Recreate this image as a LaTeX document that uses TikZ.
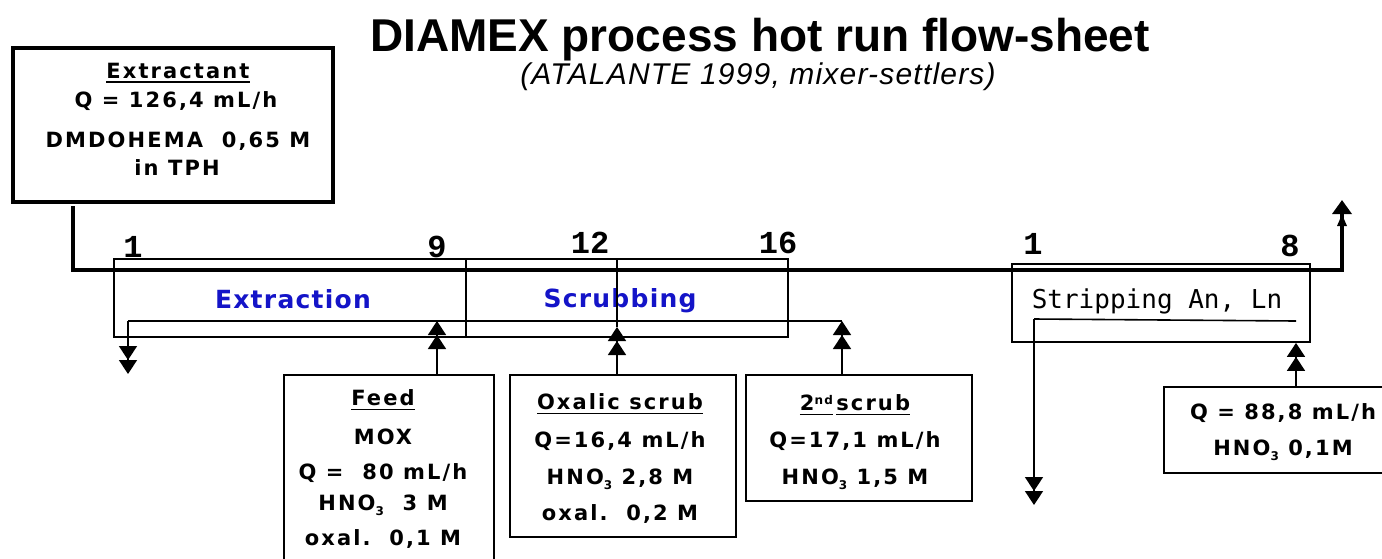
\documentclass[tikz,border=0pt]{standalone}
\usepackage{fontspec}
\setmainfont{Liberation Sans}
\newfontfamily\numfont{Liberation Mono}
\newfontfamily\stripfont{DejaVu Sans Mono}
\newfontfamily\boxf[LetterSpace=10]{DejaVu Sans}
\newfontfamily\labf[LetterSpace=5]{DejaVu Sans}
\newfontfamily\subtf[LetterSpace=4]{Liberation Sans}
\usetikzlibrary{arrows.meta}
\definecolor{labblue}{RGB}{20,20,200}
\newcommand{\lowsub}[1]{\raisebox{-0.45ex}{\fontsize{12}{12}\selectfont #1}}
\newcommand{\highsup}[1]{\raisebox{0.55ex}{\fontsize{12}{12}\selectfont #1}}
\newcommand{\ulx}[1]{\leavevmode\vtop{\hbox{#1}\kern3pt\hrule height 1.6pt}}
\begin{document}
\begin{tikzpicture}[x=1pt,y=-1pt,
  boxst/.style={draw, line width=1.8pt, inner sep=0},
  bt/.style={font=\boxf\bfseries\fontsize{21}{24}\selectfont, inner sep=0, anchor=base},
  labst/.style={font=\labf\bfseries\fontsize{25}{28}\selectfont, inner sep=0, anchor=base, text=labblue},
  numst/.style={font=\numfont\bfseries\fontsize{32}{34}\selectfont, inner sep=0, anchor=base},
  mainln/.style={line width=4pt, line join=miter},
  ln/.style={line width=1.6pt},
  arr/.style={line width=1.6pt, -{Triangle[length=14pt,width=18pt] Triangle[length=14pt,width=18pt]}},
  toparr/.style={-{Triangle[length=12pt,width=9pt] Triangle[length=14pt,width=19pt]}}
]
\useasboundingbox (0,0) rectangle (1382,558);
\fill[white] (0,0) rectangle (1382,558);

% title
\node[font=\bfseries\fontsize{46}{50}\selectfont, inner sep=0, anchor=base] (title) at (760,51) {DIAMEX process hot run flow-sheet};
\node[font=\subtf\itshape\fontsize{30}{32}\selectfont, inner sep=0, anchor=base] (subtitle) at (758,84) {(ATALANTE 1999, mixer-settlers)};

% extractant box
\node[draw, line width=4.5pt, inner sep=0, minimum width=320, minimum height=154] (extr) at (173,125) {};
\node[bt] (ex1) at (178,78) {\ulx{Extractant}};
\node[bt] (ex2) at (176,107) {Q = 126,4 mL/h};
\node[bt] (ex3) at (178,147) {DMDOHEMA\ \ 0,65 M};
\node[bt] (ex4) at (177,175) {in TPH};

% main organic line
\coordinate (ls) at (73,206);
\coordinate (rs) at (1342,270);
\coordinate (rtop) at (1342,200);
\draw[mainln, toparr] (ls) |- (rs) -- (rtop);

% contactor boxes
\node[boxst, minimum width=352, minimum height=78] (extbox) at (290,298) {};
\node[boxst, minimum width=322, minimum height=78] (scrbox) at (627,298) {};
\node[boxst, minimum width=298, minimum height=78] (strbox) at (1161,303) {};
\node[labst] (extl) at (293,308) {Extraction};
\node[labst] (scrl) at (620,307) {Scrubbing};
\node[font=\stripfont\fontsize{26}{28}\selectfont, inner sep=0, anchor=base] (strl) at (1157,308) {Stripping An, Ln};

% stage numbers
\node[numst] (n1) at (133,257) {1};
\node[numst] (n9) at (437,257) {9};
\node[numst] (n12) at (590,253) {12};
\node[numst] (n16) at (778,253) {16};
\node[numst] (m1) at (1033,254) {1};
\node[numst] (m8) at (1290,256) {8};

% feed box
\node[boxst, minimum width=210, minimum height=205] (feed) at (389,477.5) {};
\node[bt] (f1) at (383,405.5) {\ulx{Feed}};
\node[bt] (f2) at (383,444.5) {MOX};
\node[bt] (f3) at (383,479.5) {Q = \ 80 mL/h};
\node[bt] (f4) at (383,510.5) {HNO\lowsub{3}\ \ 3 M};
\node[bt] (f5) at (383,545.5) {oxal.\ \ 0,1 M};

% oxalic scrub box
\node[boxst, minimum width=226, minimum height=162] (oxal) at (623,456) {};
\node[bt] (o1) at (620,409.5) {\ulx{Oxalic scrub}};
\node[bt] (o2) at (620,447.5) {Q=16,4 mL/h};
\node[bt] (o3) at (620,484.5) {HNO\lowsub{3} 2,8 M};
\node[bt] (o4) at (620,520.5) {oxal.\ \ 0,2 M};

% second scrub box
\node[boxst, minimum width=226, minimum height=126] (scr2) at (859,438) {};
\node[bt] (s1) at (855,410.5) {\ulx{2\highsup{nd}}\,\ulx{scrub}};
\node[bt] (s2) at (855,447.5) {Q=17,1 mL/h};
\node[bt] (s3) at (855,484.5) {HNO\lowsub{3} 1,5 M};

% stripping feed box
\node[boxst, minimum width=238, minimum height=86] (sfeed) at (1283,430) {};
\node[bt] (sf1) at (1283,419.5) {Q = 88,8 mL/h};
\node[bt] (sf2) at (1283,455.5) {HNO\lowsub{3} 0,1M};

% aqueous lines extraction / scrubbing
\coordinate (aqout) at (128,321);
\coordinate (aqend) at (128,374);
\coordinate (scin) at (842,321);
\coordinate (fin) at (437,321);
\coordinate (oxin) at (617,327);
\coordinate (oxtop) at (617,259);
\draw[ln] (scin) -- (aqout);
\draw[arr] (aqout) -- (aqend);
\draw[arr] (scin |- scr2.north) -- (scin);
\draw[arr] (fin |- feed.north) -- (fin);
\draw[ln] (oxin) -- (oxtop);
\draw[arr] (oxin |- oxal.north) -- (oxin);

% stripping aqueous
\coordinate (stout) at (1034,319);
\coordinate (stend) at (1034,505);
\coordinate (stin) at (1296,321);
\draw[ln] (stin) -- (stout);
\draw[arr] (stout) -- (stend);
\draw[arr] (stin |- sfeed.north) -- (stin |- strbox.south);
\end{tikzpicture}
\end{document}
